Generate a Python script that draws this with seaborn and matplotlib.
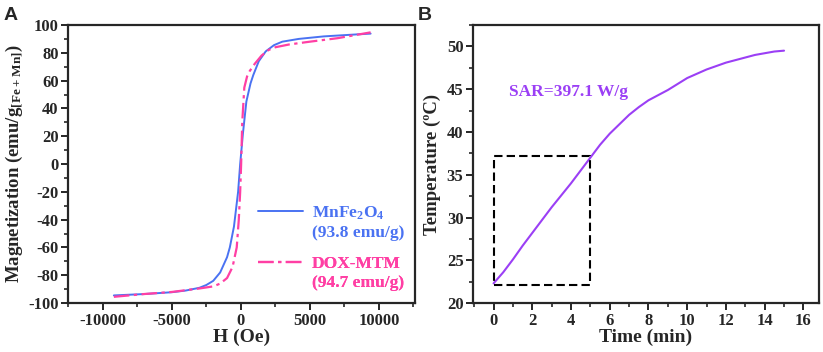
import numpy as np
import pandas as pd
import matplotlib
matplotlib.use("Agg")
import matplotlib.pyplot as plt
from matplotlib.ticker import MultipleLocator
from matplotlib.lines import Line2D
import seaborn as sns

# ---------------- data ----------------
h_mnfe = [-9200, -7000, -5000, -4000, -3000, -2500, -2000, -1500, -1000, -800,
          -500, -200, -50, 150, 400, 700, 900, 1300, 1800, 2400, 3000, 4200,
          6000, 8000, 9400]
m_mnfe = [-94.5, -93.5, -92.2, -91.0, -89.0, -87.0, -84.0, -78.0, -67.0, -60.0,
          -45.0, -20.0, 0.0, 22.0, 45.0, 58.0, 64.0, 74.0, 81.0, 85.5, 88.0, 90.0,
          91.8, 93.0, 93.8]

h_dox = [-9200, -7000, -5000, -3000, -2000, -1500, -1000, -600, -300, -150,
         -50, 20, 100, 250, 450, 650, 1000, 1500, 2000, 2500, 3500, 5000,
         7000, 9400]
m_dox = [-95.5, -93.5, -92.0, -89.5, -88.0, -86.0, -82.0, -74.0, -60.0, -40.0,
         -20.0, 0.0, 30.0, 55.0, 63.0, 67.0, 72.0, 78.0, 82.0, 84.0, 86.0, 88.0,
         90.5, 94.7]

t_min = [0, 0.5, 1, 1.5, 2, 2.5, 3, 3.5, 4, 4.5, 5, 5.5, 6, 6.5, 7, 7.5,
         8, 8.5, 9, 9.5, 10, 10.5, 11, 11.5, 12, 12.5, 13, 13.5, 14, 14.5, 15]
temp = [22.3, 23.6, 25.1, 26.7, 28.2, 29.7, 31.2, 32.6, 34.0, 35.5, 37.0,
        38.5, 39.8, 40.9, 42.0, 42.9, 43.7, 44.3, 44.9, 45.6, 46.3, 46.8,
        47.3, 47.7, 48.1, 48.4, 48.7, 49.0, 49.2, 49.4, 49.5]

names = ["MnFe$_2$O$_4$", "DOX-MTM"]
ms_values = ["(93.8 emu/g)", "(94.7 emu/g)"]
sar_text = "SAR=397.1 W/g"

blue = "#4a72f2"
pink = "#ff3fa4"
purple = "#9b3ff5"
dashdot = (0, (7, 2, 1.5, 2))

# ---------------- style ----------------
sns.set_theme(style="ticks")
plt.rcParams["font.family"] = ["Liberation Serif", "DejaVu Serif"]
plt.rcParams["font.weight"] = "bold"
plt.rcParams["axes.labelweight"] = "bold"
plt.rcParams["axes.unicode_minus"] = False
plt.rcParams["mathtext.fontset"] = "custom"
plt.rcParams["mathtext.rm"] = "Liberation Serif:bold"
plt.rcParams["mathtext.default"] = "rm"
plt.rcParams["axes.linewidth"] = 1.6
plt.rcParams["xtick.major.width"] = 1.4
plt.rcParams["ytick.major.width"] = 1.4
plt.rcParams["xtick.minor.width"] = 1.2
plt.rcParams["ytick.minor.width"] = 1.2
plt.rcParams["xtick.major.size"] = 5
plt.rcParams["ytick.major.size"] = 5
plt.rcParams["xtick.minor.size"] = 3
plt.rcParams["ytick.minor.size"] = 3

fig = plt.figure(figsize=(8.23, 3.52), dpi=100)
ax1 = fig.add_axes([0.083, 0.139, 0.421, 0.790])
ax2 = fig.add_axes([0.575, 0.139, 0.420, 0.790])

# ---------------- panel A ----------------
df_a1 = pd.DataFrame({"H": h_mnfe, "M": m_mnfe})
df_a2 = pd.DataFrame({"H": h_dox, "M": m_dox})
sns.lineplot(data=df_a1, x="H", y="M", ax=ax1, color=blue, lw=1.4, sort=False)
sns.lineplot(data=df_a2, x="H", y="M", ax=ax1, color=pink, lw=1.6,
             sort=False, linestyle=dashdot)
ax1.set_xlim(-12500, 12600)
ax1.set_ylim(-100, 100)
ax1.xaxis.set_major_locator(MultipleLocator(5000))
ax1.xaxis.set_minor_locator(MultipleLocator(2500))
ax1.yaxis.set_major_locator(MultipleLocator(20))
ax1.yaxis.set_minor_locator(MultipleLocator(10))
ax1.set_xlabel("H (Oe)", fontsize=14, labelpad=0)
ax1.set_ylabel("Magnetization (emu/g$_{[Fe+Mn]}$)", fontsize=13.5, labelpad=2)
ax1.tick_params(labelsize=12, pad=2)

# legends: one per sample, line handle beside the first text line
blank = Line2D([], [], color="none")
handles = [Line2D([], [], color=blue, lw=1.4),
           Line2D([], [], color=pink, lw=1.6, linestyle=dashdot)]
colors = [blue, pink]
anchors = [(0.548, 0.355), (0.548, 0.17)]
for i in range(2):
    leg = ax1.legend([handles[i], blank], [names[i], ms_values[i]],
                     loc="upper left", bbox_to_anchor=anchors[i],
                     frameon=False, fontsize=12.5, handlelength=2.6,
                     labelspacing=0.15, handletextpad=0.5, borderpad=0,
                     borderaxespad=0)
    for txt in leg.get_texts():
        txt.set_color(colors[i])
    ax1.add_artist(leg)
fig.text(0.004, 0.955, "A", fontsize=14, fontweight="bold",
         family="Liberation Sans", va="center")

# ---------------- panel B ----------------
df_b = pd.DataFrame({"Time": t_min, "Temp": temp})
sns.lineplot(data=df_b, x="Time", y="Temp", ax=ax2, color=purple, lw=1.5)
ax2.plot([0, 5, 5, 0, 0], [22.15, 22.15, 37.2, 37.2, 22.15], color="black",
         lw=1.5, linestyle=(0, (4, 2)))
ax2.set_xlim(-1.05, 16.8)
ax2.set_ylim(20, 52.5)
ax2.xaxis.set_major_locator(MultipleLocator(2))
ax2.xaxis.set_minor_locator(MultipleLocator(1))
ax2.yaxis.set_major_locator(MultipleLocator(5))
ax2.yaxis.set_minor_locator(MultipleLocator(2.5))
ax2.set_xlabel("Time (min)", fontsize=14, labelpad=0)
ax2.set_ylabel("Temperature (\u00baC)", fontsize=13.5, labelpad=4)
ax2.tick_params(labelsize=12, pad=2)
ax2.text(0.82, 44.7, sar_text, color=purple, fontsize=12.5, fontweight="bold",
         va="center")
fig.text(0.508, 0.955, "B", fontsize=14, fontweight="bold",
         family="Liberation Sans", va="center")

fig.savefig("out.png", dpi=100)
